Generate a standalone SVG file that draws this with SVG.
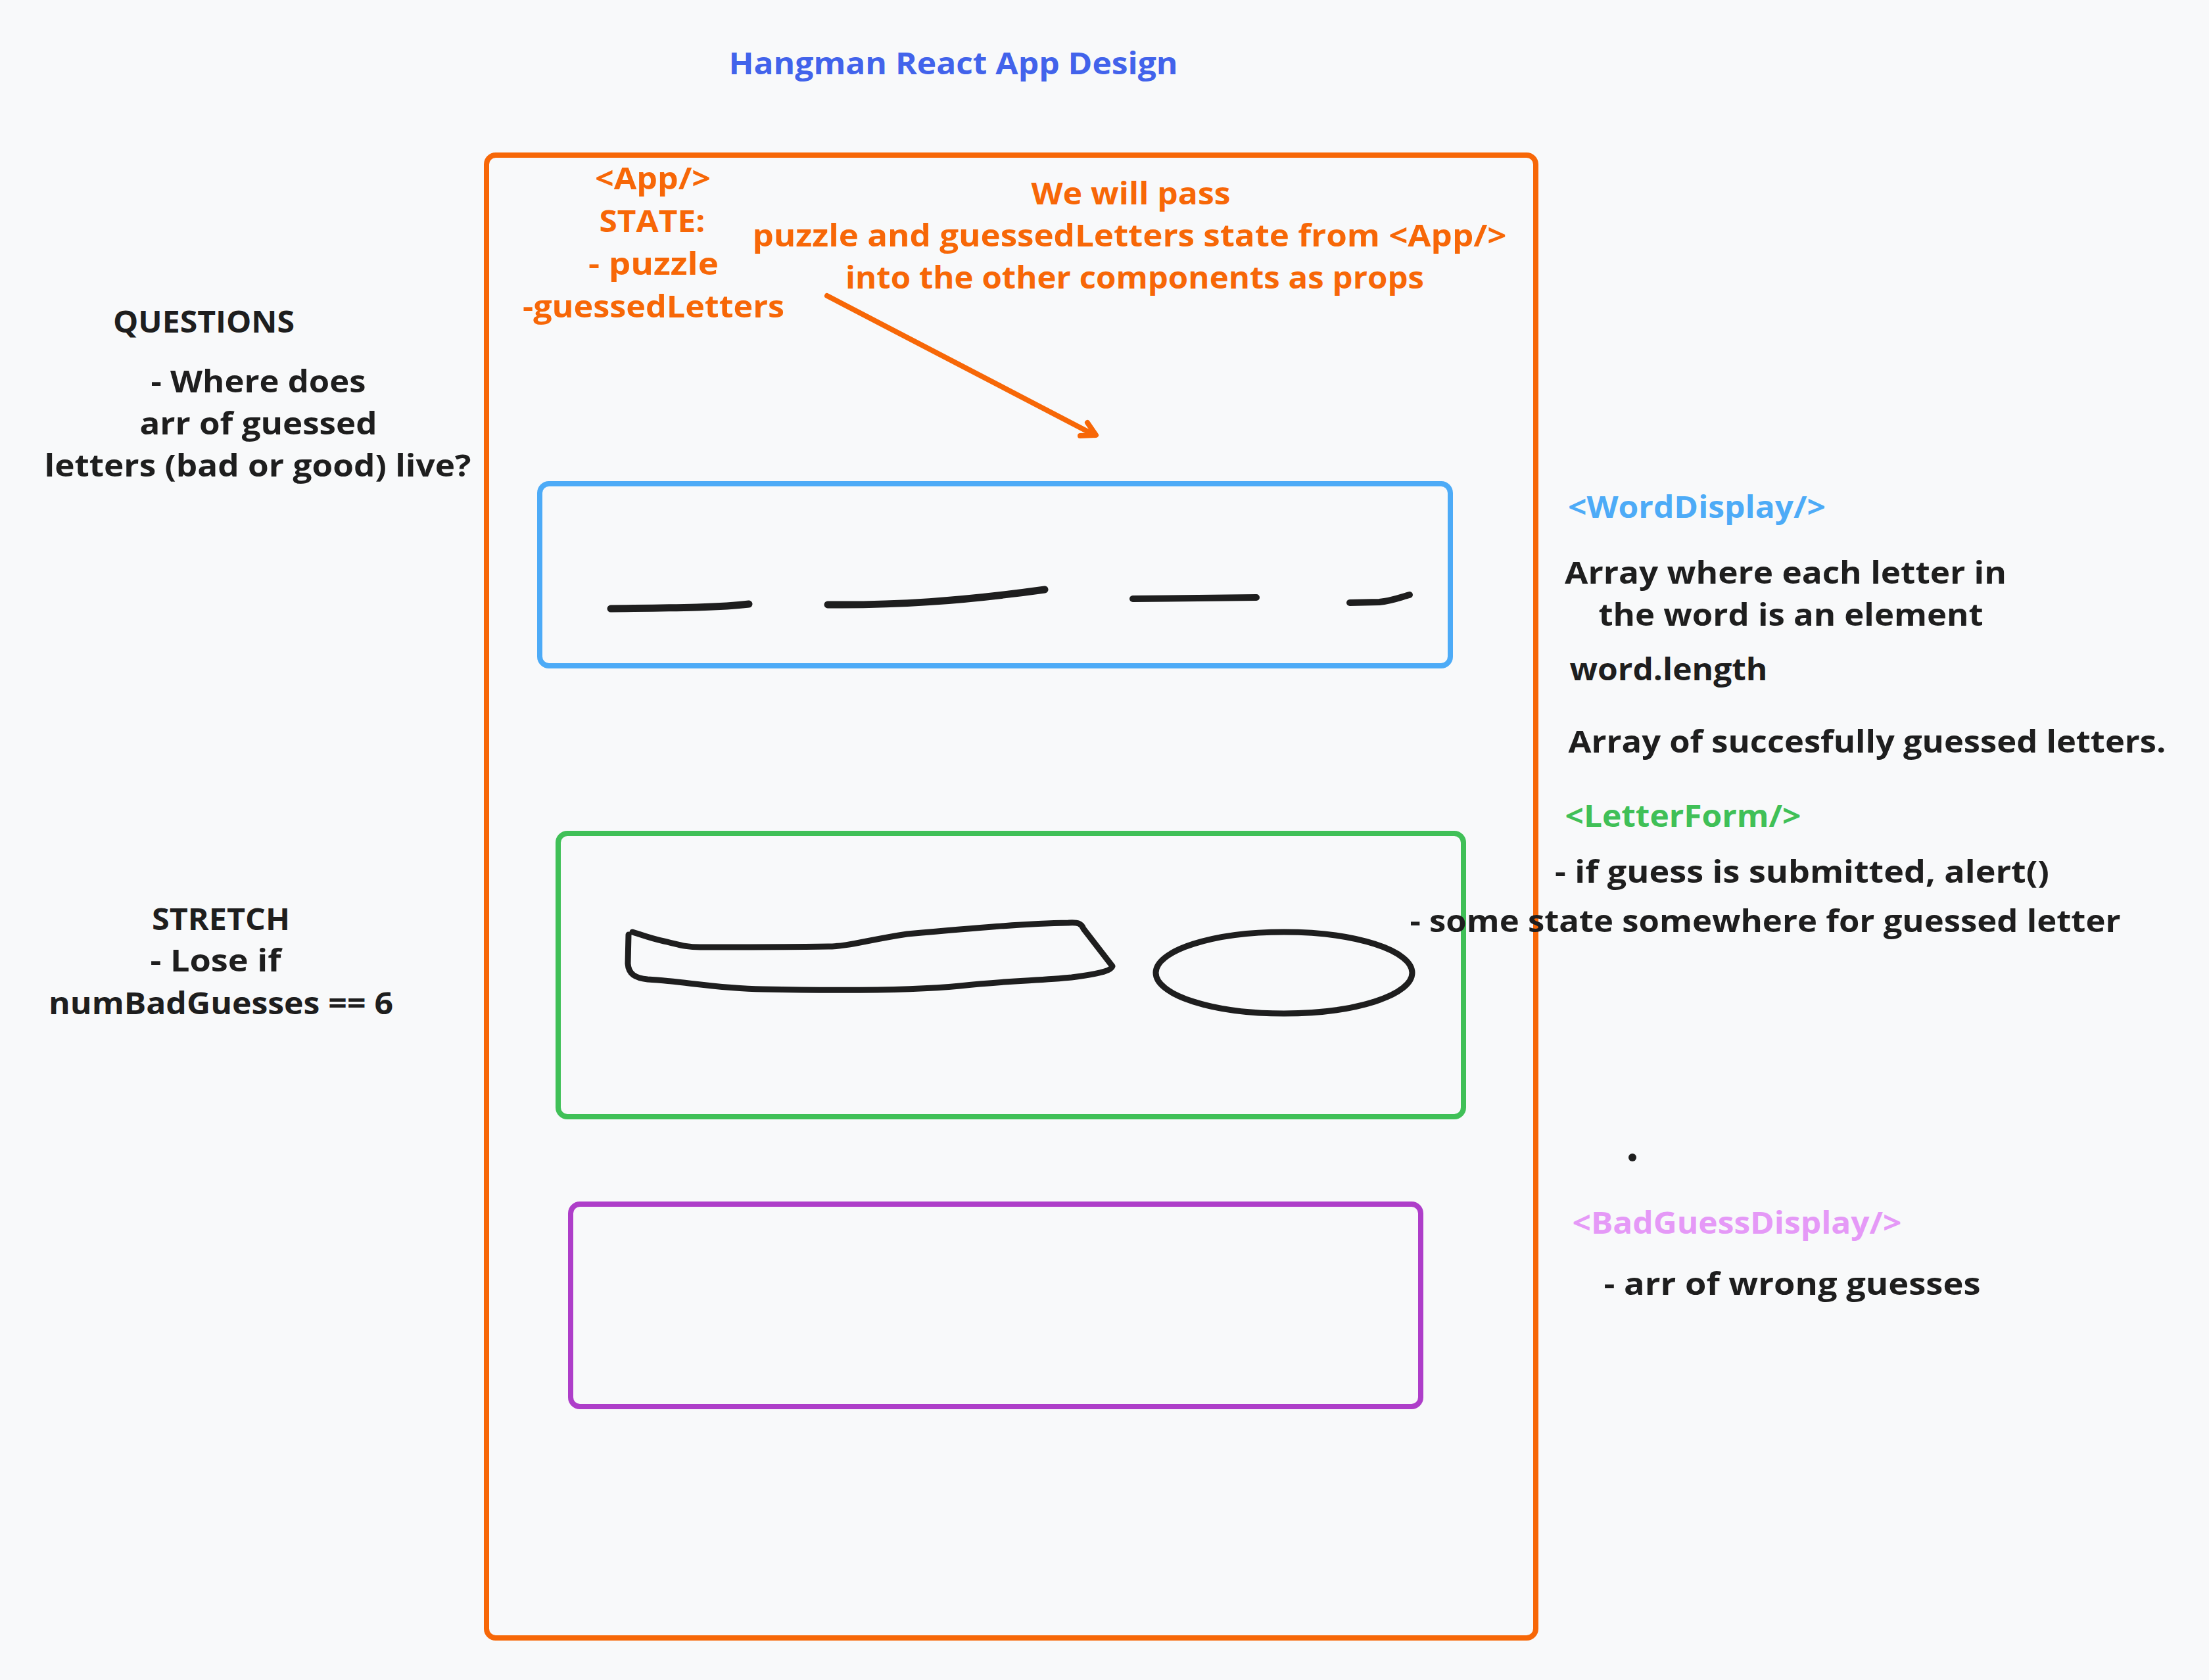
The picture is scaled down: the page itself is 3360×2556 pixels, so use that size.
<svg xmlns="http://www.w3.org/2000/svg" width="3360" height="2556" viewBox="0 0 3360 2556">
<style>
text{font-family:"Open Sans","Liberation Sans",sans-serif;font-size:46px;font-weight:700;text-anchor:middle}
.blk{fill:#1e1e1e}
.org{fill:#f76707}
.box{fill:none;stroke-width:8;stroke-linejoin:round}
.ink{fill:none;stroke:#1e1e1e;stroke-linecap:round;stroke-linejoin:round}
</style>
<rect x="0" y="0" width="3360" height="2556" fill="#f8f9fa"/>
<g id="title"><text x="1450" y="113" fill="#4263eb" textLength="683" lengthAdjust="spacingAndGlyphs">Hangman React App Design</text></g>
<g id="app">
<rect class="box" x="740" y="236" width="1596" height="2256" rx="14" stroke="#f76707"/>
<text class="org" x="993" y="288" textLength="176" lengthAdjust="spacingAndGlyphs">&lt;App/&gt;</text>
<text class="org" x="992" y="353" textLength="161" lengthAdjust="spacingAndGlyphs">STATE:</text>
<text class="org" x="994" y="418" textLength="198" lengthAdjust="spacingAndGlyphs">- puzzle</text>
<text class="org" x="994" y="483" textLength="398" lengthAdjust="spacingAndGlyphs">-guessedLetters</text>
<text class="org" x="1720" y="311" textLength="303" lengthAdjust="spacingAndGlyphs">We will pass</text>
<text class="org" x="1718" y="375" textLength="1147" lengthAdjust="spacingAndGlyphs">puzzle and guessedLetters state from &lt;App/&gt;</text>
<text class="org" x="1726" y="439" textLength="880" lengthAdjust="spacingAndGlyphs">into the other components as props</text>
</g>
<g id="connectors">
<path d="M1258 450 L1665 662" fill="none" stroke="#f76707" stroke-width="8" stroke-linecap="round"/>
<path d="M1654 643 L1667 662 L1643 663" fill="none" stroke="#f76707" stroke-width="8" stroke-linecap="round" stroke-linejoin="round"/>
</g>
<g id="worddisplay">
<rect class="box" x="821" y="736" width="1385" height="277" rx="14" stroke="#4dabf7"/>
<path class="ink" stroke-width="11" d="M929 926 C1000 925 1090 925 1139 919"/>
<path class="ink" stroke-width="11" d="M1259 920 C1360 921 1460 915 1589 897"/>
<path class="ink" stroke-width="10" d="M1723 911 L1911 909"/>
<path class="ink" stroke-width="10" d="M2053 917 L2098 916 C2118 914 2132 908 2144 905"/>
<text x="2581" y="788" fill="#4dabf7" textLength="392" lengthAdjust="spacingAndGlyphs">&lt;WordDisplay/&gt;</text>
<text class="blk" x="2716" y="888" textLength="672" lengthAdjust="spacingAndGlyphs">Array where each letter in</text>
<text class="blk" x="2724" y="952" textLength="585" lengthAdjust="spacingAndGlyphs">the word is an element</text>
<text class="blk" x="2538" y="1035" textLength="301" lengthAdjust="spacingAndGlyphs">word.length</text>
<text class="blk" x="2840" y="1145" textLength="909" lengthAdjust="spacingAndGlyphs">Array of succesfully guessed letters.</text>
</g>
<g id="letterform">
<rect class="box" x="849" y="1268" width="1377" height="431" rx="14" stroke="#40c057"/>
<path class="ink" stroke-width="9" d="M956 1422 L955 1466 C956 1482 966 1488 985 1490 C1040 1493 1090 1504 1160 1505 C1260 1507 1390 1507 1460 1500 C1530 1492 1580 1492 1630 1487 C1670 1482 1690 1477 1692 1470 L1648 1413 C1645 1405 1640 1403 1625 1404 C1560 1405 1480 1412 1380 1421 C1320 1430 1290 1440 1260 1440 C1200 1441 1120 1441 1065 1441 C1040 1441 1030 1436 1010 1432 C990 1428 972 1421 962 1418"/>
<ellipse class="ink" stroke-width="9" cx="1953" cy="1480" rx="195" ry="62"/>
<text x="2560" y="1258" fill="#40c057" textLength="359" lengthAdjust="spacingAndGlyphs">&lt;LetterForm/&gt;</text>
<text class="blk" x="2741" y="1343" textLength="752" lengthAdjust="spacingAndGlyphs">- if guess is submitted, alert()</text>
<text class="blk" x="2685" y="1418" textLength="1081" lengthAdjust="spacingAndGlyphs">- some state somewhere for guessed letter</text>
</g>
<g id="badguessdisplay">
<rect class="box" x="868" y="1832" width="1293" height="308" rx="14" stroke="#ae3ec9"/>
<circle cx="2483" cy="1761" r="6" fill="#1e1e1e"/>
<text x="2642" y="1877" fill="#e599f7" textLength="501" lengthAdjust="spacingAndGlyphs">&lt;BadGuessDisplay/&gt;</text>
<text class="blk" x="2726" y="1970" textLength="573" lengthAdjust="spacingAndGlyphs">- arr of wrong guesses</text>
</g>
<g id="questions">
<text class="blk" x="310" y="506" textLength="276" lengthAdjust="spacingAndGlyphs">QUESTIONS</text>
<text class="blk" x="393" y="597" textLength="327" lengthAdjust="spacingAndGlyphs">- Where does</text>
<text class="blk" x="393" y="661" textLength="361" lengthAdjust="spacingAndGlyphs">arr of guessed</text>
<text class="blk" x="392" y="725" textLength="649" lengthAdjust="spacingAndGlyphs">letters (bad or good) live?</text>
</g>
<g id="stretch">
<text class="blk" x="336" y="1415" textLength="210" lengthAdjust="spacingAndGlyphs">STRETCH</text>
<text class="blk" x="328" y="1478" textLength="199" lengthAdjust="spacingAndGlyphs">- Lose if</text>
<text class="blk" x="336" y="1543" textLength="524" lengthAdjust="spacingAndGlyphs">numBadGuesses == 6</text>
</g>
</svg>
